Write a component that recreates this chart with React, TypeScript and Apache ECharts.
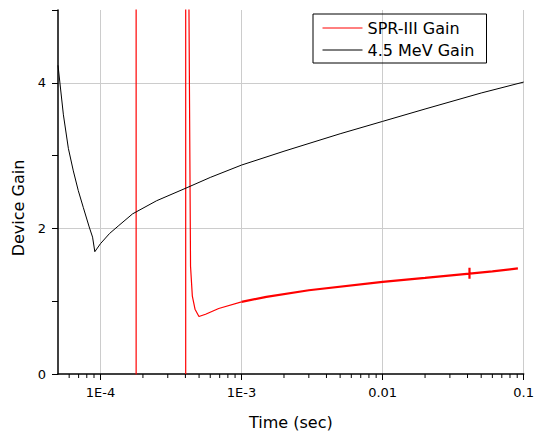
import React, { useEffect, useRef } from "react";
import * as echarts from "echarts";

// 4.5 MeV Gain (black)
const mevX = [5e-5, 5.46e-5, 5.92e-5, 6.42e-5, 6.96e-5, 7.55e-5, 8.32e-5, 8.79e-5, 9.12e-5, 1e-4, 1.16e-4, 1.35e-4, 1.69e-4, 2.5e-4, 4.11e-4, 6e-4, 1e-3, 2e-3, 5e-3, 1e-2, 2e-2, 5e-2, 0.1];
const mevY = [4.24, 3.56, 3.10, 2.79, 2.52, 2.29, 2.02, 1.88, 1.68, 1.79, 1.93, 2.04, 2.2, 2.38, 2.56, 2.7, 2.87, 3.06, 3.3, 3.47, 3.64, 3.86, 4.01];

// SPR-III Gain (red), early part incl. off-scale spikes
const sprX1 = [1.79e-4, 1.79e-4, 4.02e-4, 4.02e-4, 4.21e-4, 4.35e-4, 4.48e-4, 4.68e-4, 4.99e-4, 5.56e-4, 6.89e-4, 1e-3];
const sprY1 = [6, -1, -1, 6, 6, 1.48, 1.07, 0.89, 0.79, 0.82, 0.9, 0.99];
// SPR-III Gain (red), late noisy part
const sprX2 = [1e-3, 1.5e-3, 3e-3, 1e-2, 2e-2, 4.13e-2, 4.13e-2, 4.13e-2, 4.13e-2, 6e-2, 9.1e-2];
const sprY2 = [0.99, 1.06, 1.15, 1.265, 1.32, 1.38, 1.46, 1.31, 1.38, 1.41, 1.45];

const xTickValues = [1e-4, 1e-3, 1e-2, 1e-1];
const xTickLabels = ["1E-4", "1E-3", "0.01", "0.1"];
const xMinorTicks = [6e-5, 7e-5, 8e-5, 9e-5, 2e-4, 3e-4, 4e-4, 5e-4, 6e-4, 7e-4, 8e-4, 9e-4, 2e-3, 3e-3, 4e-3, 5e-3, 6e-3, 7e-3, 8e-3, 9e-3, 2e-2, 3e-2, 4e-2, 5e-2, 6e-2, 7e-2, 8e-2, 9e-2];
const yLabelValues = [0, 2, 4];

const FONT = "DejaVu Sans";

const zip = (xs: number[], ys: number[]) => xs.map((x, i) => [x, ys[i]]);

export default function App() {
  const ref = useRef<HTMLDivElement>(null);
  useEffect(() => {
    document.body.style.margin = "0";
    document.body.style.overflow = "hidden";
    if (!ref.current) return;
    const chart = echarts.init(ref.current, undefined, { renderer: "svg" });
    chart.setOption({
      animation: false,
      backgroundColor: "#fff",
      grid: { left: 58, right: 10, top: 10, bottom: 56 },
      legend: {
        orient: "vertical",
        left: 313,
        top: 14,
        padding: [4, 12, 3, 9],
        borderColor: "#000",
        borderWidth: 1,
        borderRadius: 0,
        itemWidth: 40,
        itemHeight: 14,
        itemGap: 2,
        itemStyle: { opacity: 0 },
        lineStyle: { width: 1 },
        textStyle: { fontFamily: FONT, fontSize: 16, color: "#000", lineHeight: 20 },
        data: ["SPR-III Gain", "4.5 MeV Gain"],
      },
      xAxis: {
        type: "log",
        logBase: 10,
        min: 5e-5,
        max: 0.1,
        name: "Time (sec)",
        nameLocation: "middle",
        nameGap: 40,
        nameTextStyle: { fontFamily: FONT, fontSize: 16, color: "#000" },
        axisLine: { show: true, onZero: false, lineStyle: { color: "#000", width: 1.5 } },
        axisTick: { show: true, length: 6, lineStyle: { color: "#000", width: 1 } },
        axisLabel: {
          showMinLabel: false,
          margin: 12,
          fontFamily: FONT,
          fontSize: 13,
          color: "#000",
          formatter: (v: number) => {
            let best = -1;
            xTickValues.forEach((t, i) => {
              if (Math.abs(Math.log10(v) - Math.log10(t)) < 0.01) best = i;
            });
            return best >= 0 ? xTickLabels[best] : "";
          },
        },
        splitLine: { show: true, showMinLine: false, showMaxLine: false, lineStyle: { color: "#cccccc", width: 1 } },
      },
      yAxis: [
        {
          type: "value",
          min: 0,
          max: 5,
          interval: 1,
          name: "Device Gain",
          nameLocation: "middle",
          nameGap: 32,
          nameTextStyle: { fontFamily: FONT, fontSize: 16, color: "#000", padding: [0, 32, 0, 0] },
          axisLine: { show: true, onZero: false, lineStyle: { color: "#000", width: 1.5 } },
          axisTick: { show: true, length: 6, lineStyle: { color: "#000", width: 1 } },
          axisLabel: {
            margin: 12,
            fontFamily: FONT,
            fontSize: 13,
            color: "#000",
            formatter: (v: number) => (yLabelValues.includes(v) ? String(v) : ""),
          },
          splitLine: { show: false },
        },
        {
          type: "value",
          min: 0,
          max: 5,
          interval: 2,
          position: "left",
          axisLine: { show: false },
          axisTick: { show: false },
          axisLabel: { show: false },
          splitLine: { show: true, showMinLine: false, showMaxLine: false, lineStyle: { color: "#cccccc", width: 1 } },
        },
      ],
      series: [
        {
          name: "SPR-III Gain",
          type: "line",
          data: zip(sprX1, sprY1),
          showSymbol: false,
          symbol: "none",
          lineStyle: { color: "#ff0000", width: 1.2 },
          itemStyle: { color: "#ff0000" },
          z: 3,
        },
        {
          name: "SPR-III Gain",
          type: "line",
          data: zip(sprX2, sprY2),
          showSymbol: false,
          symbol: "none",
          lineStyle: { color: "#ff0000", width: 2.2 },
          itemStyle: { color: "#ff0000" },
          z: 3,
        },
        {
          name: "4.5 MeV Gain",
          type: "line",
          data: zip(mevX, mevY),
          showSymbol: false,
          symbol: "none",
          lineStyle: { color: "#000000", width: 1 },
          itemStyle: { color: "#000000" },
          z: 3,
        },
        {
          type: "custom",
          silent: true,
          data: xMinorTicks.map((x) => [x, 0]),
          renderItem: (params: any, api: any) => {
            const p = api.coord([api.value(0), 0]);
            return {
              type: "line",
              shape: { x1: p[0], y1: p[1], x2: p[0], y2: p[1] + 4 },
              style: { stroke: "#000", lineWidth: 1 },
            };
          },
          clip: false,
          z: 4,
        },
      ],
    });
    return () => chart.dispose();
  }, []);
  return <div ref={ref} style={{ width: 537, height: 435 }} />;
}
